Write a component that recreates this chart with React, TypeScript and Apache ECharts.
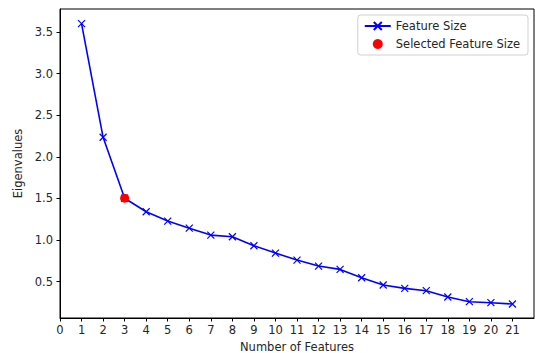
import React, { useEffect, useRef } from "react";
import * as echarts from "echarts";

const featureCounts = [1, 2, 3, 4, 5, 6, 7, 8, 9, 10, 11, 12, 13, 14, 15, 16, 17, 18, 19, 20, 21];
const eigenvalues = [3.6, 2.235, 1.503, 1.34, 1.228, 1.143, 1.06, 1.04, 0.932, 0.844, 0.76, 0.688, 0.648, 0.548, 0.46, 0.42, 0.392, 0.316, 0.26, 0.248, 0.232];
const selectedFeature = [3];
const selectedValue = [1.503];
const xTicks = [0, 1, 2, 3, 4, 5, 6, 7, 8, 9, 10, 11, 12, 13, 14, 15, 16, 17, 18, 19, 20, 21];
const yTicks = [0.5, 1.0, 1.5, 2.0, 2.5, 3.0, 3.5];

const FONT = "DejaVu Sans";
const TXT = "#262626";
const FS = 11.5;

export default function App() {
  const ref = useRef<HTMLDivElement>(null);
  useEffect(() => {
    document.body.style.margin = "0";
    const chart = echarts.init(ref.current!, null, { renderer: "svg" });
    chart.setOption({
      animation: false,
      backgroundColor: "#ffffff",
      textStyle: { fontFamily: FONT },
      grid: {
        left: 60,
        top: 9,
        right: 1,
        bottom: 35,
        outerBoundsMode: "none",
        containLabel: false,
        show: true,
        borderColor: "#000",
        borderWidth: 1,
        backgroundColor: "transparent",
      },
      legend: {
        orient: "vertical",
        right: 7,
        top: 15,
        padding: [5, 8, 5, 6],
        itemGap: 6,
        itemWidth: 26,
        itemHeight: 10,
        borderColor: "#d0d0d0",
        borderWidth: 1,
        borderRadius: 3,
        textStyle: { fontFamily: FONT, fontSize: FS, color: TXT },
        data: [
          { name: "Feature Size" },
          { name: "Selected Feature Size", icon: "circle" },
        ],
      },
      xAxis: {
        type: "value",
        min: 0,
        max: 22,
        name: "Number of Features",
        nameLocation: "middle",
        nameGap: 23,
        nameTextStyle: { fontFamily: FONT, fontSize: FS, color: TXT, lineHeight: 12 },
        splitLine: { show: false },
        axisLine: { show: true, lineStyle: { color: "#000", width: 1 } },
        axisTick: { show: true, customValues: xTicks, length: 3.5, lineStyle: { color: "#000" } },
        axisLabel: {
          customValues: xTicks,
          margin: 6,
          fontFamily: FONT,
          fontSize: FS,
          color: TXT,
          formatter: (v: number) => String(v),
        },
      },
      yAxis: {
        type: "value",
        min: 0.064,
        max: 3.776,
        name: "Eigenvalues",
        nameLocation: "middle",
        nameGap: 35,
        nameTextStyle: { fontFamily: FONT, fontSize: FS, color: TXT },
        splitLine: { show: false },
        axisLine: { show: true, lineStyle: { color: "#000", width: 1 } },
        axisTick: { show: true, customValues: yTicks, length: 3.5, lineStyle: { color: "#000" } },
        axisLabel: {
          customValues: yTicks,
          margin: 7,
          fontFamily: FONT,
          fontSize: FS,
          color: TXT,
          formatter: (v: number) => v.toFixed(1),
        },
      },
      series: [
        {
          name: "Feature Size",
          type: "line",
          data: featureCounts.map((x, i) => [x, eigenvalues[i]]),
          lineStyle: { color: "#0000ff", width: 1.6 },
          symbol: "path://M0 0L10 10M10 0L0 10",
          symbolSize: 7,
          itemStyle: { color: "#0000ff", borderColor: "#0000ff", borderWidth: 1.2 },
          z: 2,
        },
        {
          name: "Selected Feature Size",
          type: "scatter",
          data: selectedFeature.map((x, i) => [x, selectedValue[i]]),
          symbol: "circle",
          symbolSize: 9,
          itemStyle: { color: "#ff0000", opacity: 1 },
          z: 3,
        },
      ],
    });
    return () => chart.dispose();
  }, []);
  return <div ref={ref} style={{ width: 535, height: 353 }} />;
}
